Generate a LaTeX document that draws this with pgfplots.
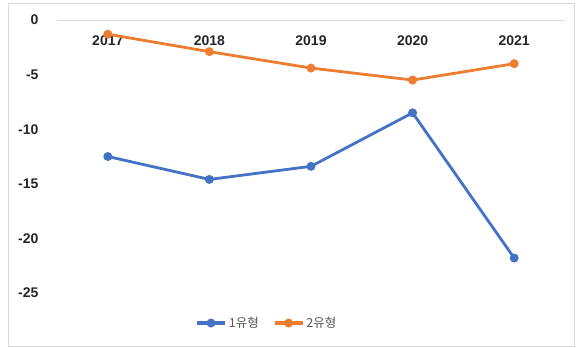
\documentclass[border=0pt]{standalone}
\usepackage{pgfplots}
\pgfplotsset{compat=1.18}
\usepackage{fontspec}
\setmainfont{Liberation Sans}
\newfontfamily\kr{Noto Sans CJK KR}
\definecolor{cblue}{HTML}{4472C4}
\definecolor{corange}{HTML}{ED7D31}
\definecolor{gridc}{HTML}{D9D9D9}
\definecolor{txt}{HTML}{262626}
\definecolor{legtxt}{HTML}{595959}
\begin{document}
\begin{tikzpicture}
\path[use as bounding box] (-57pt,-55pt) rectangle (524pt,293pt);
\draw[gridc, line width=0.8pt] (-49pt,-53pt) rectangle (517pt,290pt);
\begin{axis}[
  scale only axis,
  width=508pt, height=273pt,
  xmin=-0.5, xmax=4.5,
  ymin=-25, ymax=0,
  axis x line=middle,
  axis y line*=left,
  y axis line style={draw=none},
  x axis line style={draw=gridc, line width=0.8pt, -},
  xtick={0,1,2,3,4},
  xticklabels={2017,2018,2019,2020,2021},
  ytick={-25,-20,-15,-10,-5,0},
  major tick length=0pt,
  /pgf/number format/assume math mode=true,
  ticklabel style={font=\fontsize{14}{16}\selectfont\bfseries, text=txt},
  xticklabel style={anchor=center, yshift=-21pt},
  yticklabel style={anchor=east, xshift=-15pt},
  clip=false,
  legend style={at={(0.413,-0.11)}, anchor=center, draw=none, fill=none,
    legend columns=2, font=\kr\fontsize{12.5}{14}\selectfont, text=legtxt,
    /tikz/every even column/.append style={column sep=12pt}},
  legend image code/.code={
    \draw[#1, mark=none, line width=3.6pt] (0pt,0pt) -- (28pt,0pt);
    \fill[#1] (14pt,0pt) circle (3pt);
  },
]
\addplot[cblue, line width=2.8pt, mark=*, mark size=3pt, mark options={solid}] coordinates {
  (0,-12.5) (1,-14.6) (2,-13.4) (3,-8.5) (4,-21.8)
};
\addlegendentry{1유형}
\addplot[corange, line width=2.8pt, mark=*, mark size=3pt, mark options={solid}] coordinates {
  (0,-1.3) (1,-2.9) (2,-4.4) (3,-5.5) (4,-4.0)
};
\addlegendentry{2유형}
\end{axis}
\end{tikzpicture}
\end{document}
